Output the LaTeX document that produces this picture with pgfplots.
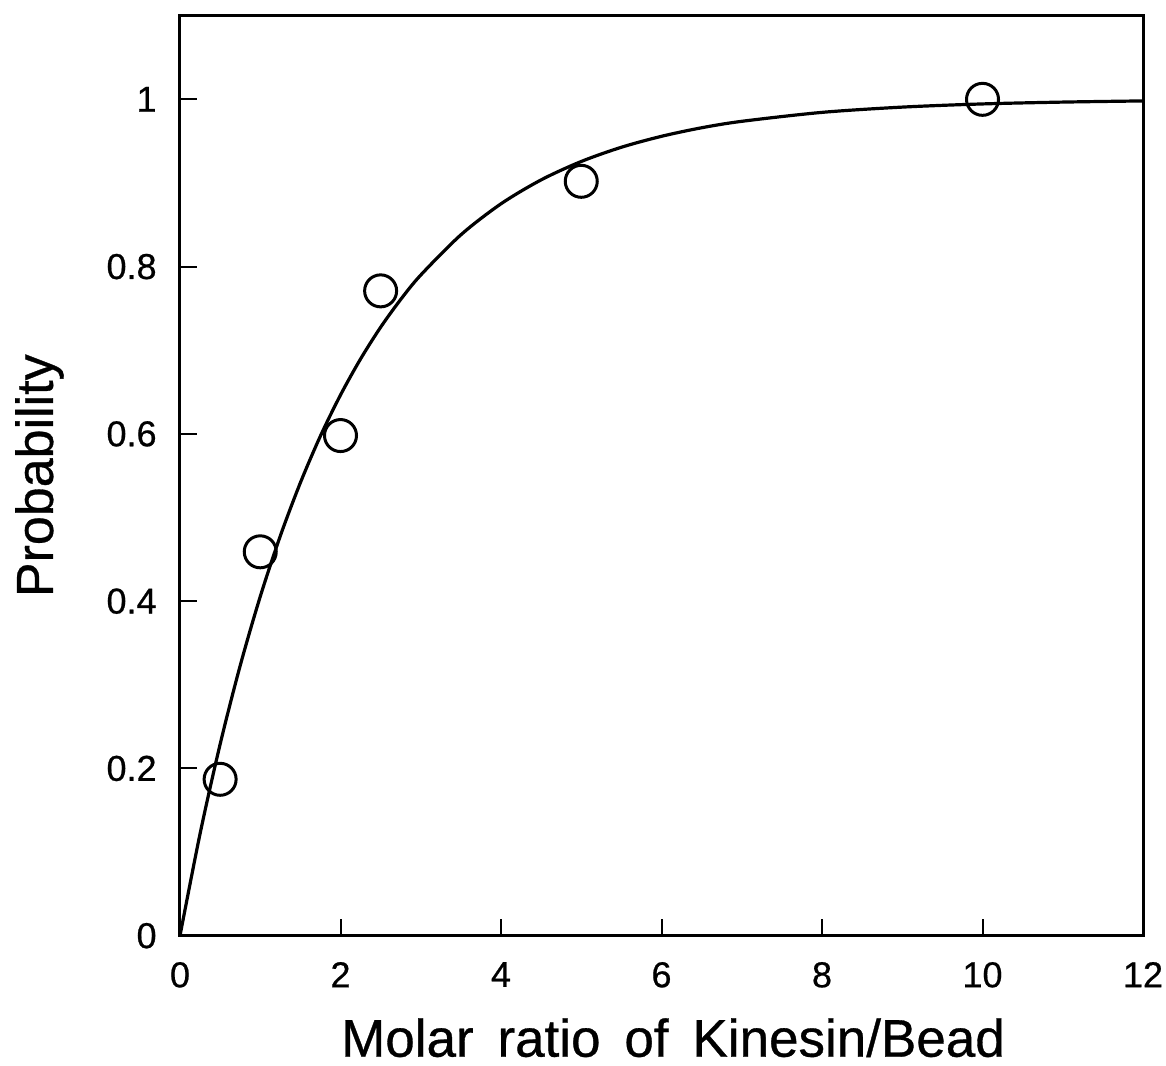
\documentclass[border=0pt]{standalone}
\usepackage{pgfplots}
\pgfplotsset{compat=1.18}
\usepackage{fontspec}
\setmainfont{Liberation Sans}
\newfontfamily\heavy[FakeBold=0.6]{Liberation Sans}
\begin{document}
\begin{tikzpicture}
\begin{axis}[
  at={(0,0)}, anchor=south west,
  scale only axis,
  width=481.5pt, height=460pt,
  xmin=0, xmax=12, ymin=0, ymax=1.1,
  xtick={0,2,4,6,8,10,12},
  ytick={0,0.2,0.4,0.6,0.8,1},
  yticklabels={0,0.2,0.4,0.6,0.8,1},
  xticklabels={0,2,4,6,8,10,12},
  tick pos=left,
  tick align=inside,
  major tick length=8.5pt,
  tick style={line width=1pt, black},
  axis line style={line width=1.5pt},
  xticklabel style={anchor=north, inner sep=0pt, yshift=-13pt, font=\heavy\fontsize{18}{20}\selectfont},
  yticklabel style={anchor=east, inner sep=0pt, xshift=-11.5pt, font=\heavy\fontsize{18}{20}\selectfont},
  xlabel={Molar\hspace{0.45em}ratio\hspace{0.45em}of\hspace{0.45em}Kinesin/Bead},
  ylabel={Probability},
  xlabel style={at={(axis description cs:0.512,-0.1315)}, anchor=base, inner sep=0pt, font=\heavy\fontsize{26.5}{30}\selectfont},
  ylabel style={at={(axis description cs:-0.132,0.5)}, anchor=base, inner sep=0pt, font=\heavy\fontsize{26}{30}\selectfont},
]
\addplot[black, line width=1.6pt, smooth] coordinates {
(0,0) (0.25,0.1219) (0.5,0.2289) (0.75,0.3229) (1,0.4055) (1.25,0.4780)
(1.5,0.5416) (1.75,0.5975) (2,0.6465) (2.25,0.6896) (2.5,0.7275) (2.75,0.7607)
(3,0.7899) (3.5,0.8380) (4,0.8751) (4.5,0.9037) (5,0.9257) (5.5,0.9427)
(6,0.9558) (6.5,0.9660) (7,0.9737) (8,0.9844) (9,0.9907) (10,0.9945)
(11,0.9967) (12,0.9981)
};
\addplot[only marks, mark=o, mark size=8pt, mark options={line width=1.5pt, fill=white, draw=black}] coordinates {
(0.5,0.187) (1,0.459) (2,0.598) (2.5,0.771) (5,0.902) (10,1.0)
};
\end{axis}
\path (-90pt,-65pt) rectangle (493pt,467.85pt);
\end{tikzpicture}
\end{document}
